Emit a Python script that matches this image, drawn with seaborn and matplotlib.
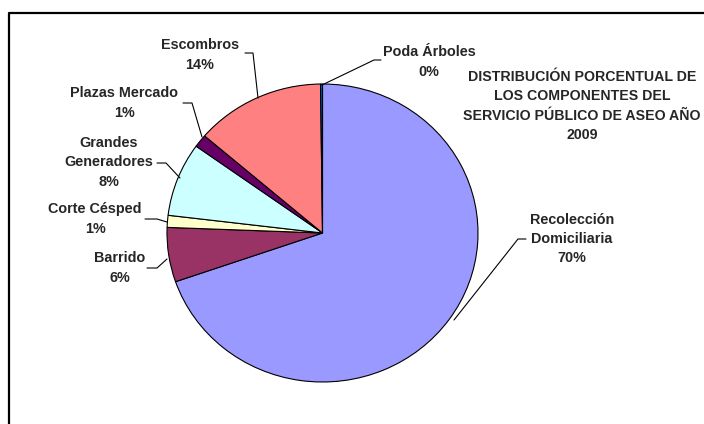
import matplotlib.pyplot as plt
import seaborn as sns

# slice data, clockwise from 12 o'clock
categories = ['Recolección\nDomiciliaria', 'Barrido', 'Corte Césped',
              'Grandes\nGeneradores', 'Plazas Mercado', 'Escombros', 'Poda Árboles']
values = [69.7, 5.9, 1.3, 8.0, 1.4, 13.5, 0.2]
colors = ['#9999FF', '#993366', '#FFFFCC', '#CCFFFF', '#660066', '#FF8080', '#0066CC']
title = 'DISTRIBUCIÓN PORCENTUAL DE\nLOS COMPONENTES DEL\nSERVICIO PÚBLICO DE ASEO AÑO\n2009'

sns.set_style('white')
plt.rcParams['font.family'] = ['Liberation Sans', 'DejaVu Sans']

W, H = 704, 424
CX, CY, RX, RY = 322.5, 233, 155.5, 149


def px(x, y):
    # image pixel -> data coords (unit pie)
    return (x - CX) / RX, (CY - y) / RY


fig = plt.figure(figsize=(W / 100, H / 100), dpi=100)
ax = fig.add_axes([0, 0, 1, 1])
ax.pie(values, colors=sns.color_palette(colors), startangle=90, counterclock=False,
       wedgeprops=dict(edgecolor='black', linewidth=0.8))
ax.set_aspect('auto')
ax.set_xlim(px(0, 0)[0], px(W, 0)[0])
ax.set_ylim(px(0, H)[1], px(0, 0)[1])
ax.axis('off')

# frame (right/bottom sides fall outside the image)
x0, y0 = px(9, 13)
x1, y1 = px(W + 20, H + 20)
ax.plot([x1, x0, x0], [y0, y0, y1], color='black', lw=1.6, clip_on=False)

# label positions and leader lines (pixels)
label_pos = [(572, 239), (120, 268), (95, 219), (109, 162), (124, 103), (200, 55), (429, 62)]
leaders = [
    [(526, 239), (518, 239), (454, 320)],
    [(147, 268), (157, 268), (167, 259)],
    [(145, 219), (157, 219), (167, 222)],
    [(157, 163), (166, 163), (180, 178)],
    [(183, 103), (192, 103), (202, 137)],
    [(245, 53), (253, 53), (258, 98)],
    [(381, 60), (374, 60), (322, 85)],
]

for cat, val, pos, line in zip(categories, values, label_pos, leaders):
    tx, ty = px(*pos)
    ax.text(tx, ty, f'{cat}\n{round(val)}%', ha='center', va='center',
            fontsize=10.4, fontweight='bold', linespacing=1.5)
    pts = [px(*p) for p in line]
    ax.plot([p[0] for p in pts], [p[1] for p in pts], color='black', lw=0.8)

tx, ty = px(582, 106)
ax.text(tx, ty, title, ha='center', va='center', fontsize=10.2,
        fontweight='bold', linespacing=1.5)

fig.savefig('out.png', dpi=100)
